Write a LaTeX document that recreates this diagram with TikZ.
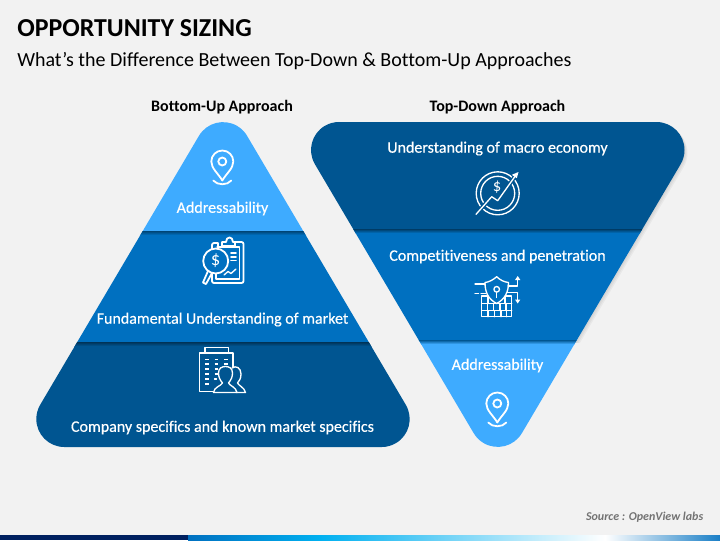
\documentclass[tikz,border=0pt]{standalone}
\usepackage{fontspec}
\setmainfont[Ligatures=NoCommon]{Carlito}
\definecolor{bgc}{HTML}{F2F2F2}
\definecolor{lightb}{HTML}{3EABFF}
\definecolor{midb}{HTML}{0070C0}
\definecolor{darkb}{HTML}{005591}
\definecolor{navyb}{HTML}{002060}
\definecolor{cyanb}{HTML}{00B0F0}
\newcommand{\leftshape}{(247.1,135.9) -- (405.8,404.8) arc[start angle=-30.5,end angle=90,radius=28] -- (64.3,447) arc[start angle=90,end angle=210.5,radius=28] -- (198.9,135.9) arc[start angle=210.5,end angle=329.5,radius=28] -- cycle}
\newcommand{\rightshape}{(339.1,122) -- (656.5,122) arc[start angle=-90,end angle=30.5,radius=28] -- (521.9,433.1) arc[start angle=30.5,end angle=149.5,radius=28] -- (314.9,164.2) arc[start angle=149.5,end angle=270,radius=28] -- cycle}
\tikzset{
  lab/.style={text=white,font=\fontsize{12pt}{14pt}\selectfont\addfontfeature{FakeBold=0.4},inner sep=0pt,anchor=center},
  hdr/.style={text=black,font=\fontsize{12pt}{14pt}\selectfont\bfseries,inner sep=0pt,anchor=center},
  ico/.style={draw=white,line width=1pt,line join=round,line cap=round,fill=none},
  thick ico/.style={draw=white,line width=1.35pt,line join=round,line cap=round,fill=none},
  pinicon/.pic={
    \draw[thick ico] (0,16) .. controls (-4,9) and (-11,4) .. (-11,-3) arc[start angle=180,end angle=360,radius=11] .. controls (11,4) and (4,9) .. (0,16) -- cycle;
    \draw[thick ico] (0,-3) circle[radius=4];
    \draw[thick ico] (-9,16) .. controls (-5,21) and (5,21) .. (9,16);
  }
}
\begin{document}
\begin{tikzpicture}[x=.75pt,y=-.75pt]
\useasboundingbox (0,0) rectangle (720,540);
\fill[bgc] (0,0) rectangle (720,540);
% footer bar
\fill[navyb] (0,535) rectangle (188,540);
\shade[left color=midb,right color=cyanb] (188,535) rectangle (320,540);
\shade[left color=cyanb,right color=white] (320,535) rectangle (605,540);
\shade[left color=white,right color=midb!90!white] (605,535) rectangle (720,540);
% title
\node[anchor=west,inner sep=0pt,font=\fontsize{19.4pt}{21pt}\selectfont\bfseries] (title) at (17,28.5) {OPPORTUNITY SIZING};
\node[anchor=west,inner sep=0pt,font=\fontsize{15pt}{17pt}\selectfont] (subtitle) at (17,61) {What’s the Difference Between Top-Down \& Bottom-Up Approaches};
\node[hdr] (hl) at (222,107.5) {Bottom-Up Approach};
\node[hdr] (hr) at (497.5,107.5) {Top-Down Approach};
% left pyramid
\begin{scope}
\clip \leftshape;
\fill[lightb] (0,100) rectangle (440,231);
\fill[midb] (0,231) rectangle (440,342);
\fill[darkb] (0,342) rectangle (440,460);
\shade[top color=darkb!80!black,bottom color=midb] (0,231) rectangle (440,235);
\shade[top color=darkb!60!black,bottom color=darkb] (0,342) rectangle (440,346);
\end{scope}
% right pyramid soft shadow
\begin{scope}
\clip (300,100) rectangle (720,342);
\foreach \d in {1,2,3}{
  \begin{scope}[shift={(\d,\d)}]
  \fill[black,opacity=.04] \rightshape;
  \end{scope}
}
\end{scope}
\begin{scope}
\clip \rightshape;
\fill[darkb] (300,100) rectangle (700,229);
\fill[midb] (300,229) rectangle (700,340);
\fill[lightb] (300,340) rectangle (700,460);
\shade[top color=darkb!70!black,bottom color=midb] (300,229) rectangle (700,233);
\shade[top color=darkb,bottom color=lightb] (300,340) rectangle (700,344);
\end{scope}
% labels
\node[lab] (l1) at (222.5,208.5) {Addressability};
\node[lab] (l2) at (222.5,319.5) {Fundamental Understanding of market};
\node[lab] (l3) at (222.5,427.5) {Company specifics and known market specifics};
\node[lab] (r1) at (497.5,148.5) {Understanding of macro economy};
\node[lab] (r2) at (497.5,256.5) {Competitiveness and penetration};
\node[lab] (r3) at (497.5,365.5) {Addressability};
% pins
\pic at (222.3,164.5) {pinicon};
\pic at (497.3,406.5) {pinicon};
% clipboard icon
\draw[thick ico] (218,253) -- (218,243) [rounded corners=1.5pt] -- (212,243) -- (212,250) (212,272) -- (212,283) -- (243.5,283) -- (243.5,242) -- (233,242);
\draw[ico] (217,247) -- (239.5,247) -- (239.5,279) -- (216,279) -- (216,274);
\draw[thick ico,fill=midb] (222,246) -- (222,242) -- (226,242) .. controls (226,236) and (233,236) .. (233,242) -- (235,242) -- (235,246) -- cycle;
\draw[ico,line width=1.2pt] (231,253) -- (236,253) (231,257) -- (236,257) (231,260.5) -- (236,260.5);
\draw[ico] (224,275) -- (228,271.5) -- (231,273.5) -- (236,269);
\draw[thick ico,fill=midb] (215.7,261) circle[radius=12.5];
\draw[thick ico] (208,271) -- (203,282.5) -- (206,284) -- (212,273);
\node[inner sep=0pt,text=white,font=\fontsize{14pt}{14pt}\selectfont] (dollar1) at (215.7,261) {\$};
% building icon
\draw[thick ico] (205,352) -- (205,347.5) -- (228.5,347.5) -- (228.5,352);
\draw[thick ico] (213,391.5) -- (199.5,391.5) -- (199.5,352.7) -- (233,352.7) -- (233,367);
\foreach \yy in {359.5,364,369,374,379,384}{
  \draw[ico,line width=1.1pt,line cap=butt] (205,\yy) -- (208.5,\yy);
}
\foreach \yy in {359.5,364,369,374}{
  \draw[ico,line width=1.1pt,line cap=butt] (214.5,\yy) -- (218,\yy) (224,\yy) -- (228,\yy);
}
\draw[ico] (214.5,379) -- (216.5,379);
\draw[ico] (232,368) .. controls (236,365) and (241,368) .. (241,374) .. controls (241,379) and (239,381) .. (237.5,383) .. controls (239,386) and (244,387) .. (245.5,392.5) -- (236.5,392.5);
\draw[ico,fill=darkb] (213.5,392.5) .. controls (214,387) and (221,386) .. (222.5,383) .. controls (220,380) and (218.5,377) .. (218.5,373) .. controls (218.5,368) and (222,366.5) .. (225.5,366.5) .. controls (229,366.5) and (232.5,368) .. (232.5,373) .. controls (232.5,377) and (231,380) .. (228.5,383) .. controls (230,386) and (236,387) .. (237,392.5) -- cycle;
% coin icon
\draw[ico] (497.7,193.3) circle[radius=21.5];
\draw[ico] (497.7,193.3) circle[radius=17];
\draw[darkb,line width=3pt] (476,214.3) -- (491.7,196.7) -- (497.7,200.7) -- (516,175);
\draw[ico] (476,214.3) -- (491.7,196.7) -- (497.7,200.7) -- (516,175);
\fill[white] (518.5,172) -- (511.8,174.8) -- (516.8,178.2) -- cycle;
\node[inner sep=0pt,text=white,font=\fontsize{12.5pt}{12pt}\selectfont] (dollar2) at (497,187.5) {\$};
% shield wall icon
\draw[ico] (481.7,296) rectangle (511.7,316.7);
\draw[ico] (481.7,303.5) -- (511.7,303.5) (481.7,310.5) -- (511.7,310.5);
\draw[ico] (488,303.5) -- (488,296) (505,303.5) -- (505,296)
  (493.5,303.5) -- (493.5,310.5) (500,303.5) -- (500,310.5) (506,303.5) -- (506,310.5) (487.5,303.5) -- (487.5,310.5)
  (488,310.5) -- (488,316.7) (494.5,310.5) -- (494.5,316.7) (501,310.5) -- (501,316.7) (506.5,310.5) -- (506.5,316.7);
\draw[ico,fill=midb] (496.7,276.7) .. controls (493,280) and (489,282) .. (485,282.5) .. controls (485,292) and (488,299) .. (496.7,303.5) .. controls (505,299) and (508.5,292) .. (508.5,282.5) .. controls (504,282) and (500,280) .. (496.7,276.7) -- cycle;
\draw[ico] (496.7,289.3) circle[radius=2.8];
\draw[ico] (496.7,292.1) -- (496.7,297.5);
\draw[ico] (475,284) -- (485,284);
\draw[ico] (475,293.3) -- (478.5,293.3) (481,293.3) -- (486,293.3);
\draw[ico] (508,286) -- (517.7,286) -- (517.7,279);
\fill[white] (517.7,276) -- (515,280) -- (520.4,280) -- cycle;
\draw[ico] (506.5,292.7) -- (517.7,292.7) -- (517.7,300);
\fill[white] (517.7,303.5) -- (515,299.5) -- (520.4,299.5) -- cycle;
% source
\node[anchor=east,inner sep=0pt,text=black!55,font=\fontsize{9pt}{11pt}\selectfont\bfseries\itshape] (source) at (703.5,517.5) {Source : OpenView labs};
\end{tikzpicture}
\end{document}
